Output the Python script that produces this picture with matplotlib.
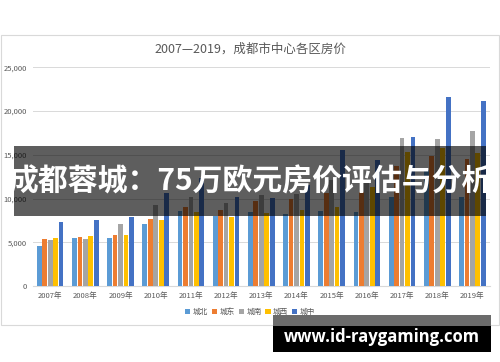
import matplotlib.pyplot as plt
import numpy as np
from matplotlib.patches import Rectangle

plt.rcParams['font.family'] = ['Noto Sans CJK SC', 'DejaVu Sans']

YEARS = ["2007年", "2008年", "2009年", "2010年", "2011年", "2012年", "2013年",
         "2014年", "2015年", "2016年", "2017年", "2018年", "2019年"]
DISTRICTS = ["城北", "城东", "城南", "城西", "城中"]
COLORS = ["#5B9BD5", "#ED7D31", "#A5A5A5", "#FFC000", "#4472C4"]

chengbei = [4580, 5450, 5450, 7090, 8620, 8040, 8470, 8270, 8580, 8430, 10200, 13270, 10200]
chengdong = [5380, 5600, 5830, 7670, 9040, 8660, 9720, 9900, 10600, 10800, 13730, 14910, 14530]
chengnan = [5260, 5380, 7130, 9300, 10200, 9460, 10410, 10500, 12100, 11800, 16900, 16820, 17730]
chengxi = [5450, 5680, 5830, 7510, 8500, 7930, 8390, 8690, 9070, 11360, 15290, 15790, 15250]
chengzhong = [7280, 7550, 7930, 10600, 12400, 10200, 10030, 11600, 15560, 14410, 17010, 21660, 21160]

series = [chengbei, chengdong, chengnan, chengxi, chengzhong]

fig = plt.figure(figsize=(5, 3.62), dpi=100)
ax = fig.add_axes([0.0652, 0.2099, 0.9148, 0.6041])

x = np.arange(len(YEARS))
step, width = 0.155, 0.135
for i, (vals, name, col) in enumerate(zip(series, DISTRICTS, COLORS)):
    ax.bar(x + (i - 2) * step, vals, width, color=col, label=name, zorder=3)

ax.set_xlim(-0.5, len(YEARS) - 0.5)
ax.set_ylim(0, 25000)
ax.set_yticks(np.arange(0, 25001, 5000))
ax.set_yticklabels([f"{v:,}" for v in range(0, 25001, 5000)])
ax.set_xticks(x)
ax.set_xticklabels(YEARS)
ax.tick_params(length=0, labelsize=5.5, colors="#595959", pad=4)
ax.grid(axis="y", color="#D9D9D9", lw=0.7, zorder=0)
for s in ["top", "right", "left"]:
    ax.spines[s].set_visible(False)
ax.spines["bottom"].set_color("#D9D9D9")

fig.text(0.5, 0.865, "2007—2019，成都市中心各区房价", ha="center", va="center",
         fontsize=9, color="#595959")

fig.legend(loc="center", bbox_to_anchor=(0.5, 0.138), ncol=5, frameon=False,
           fontsize=5.5, handlelength=0.7, handleheight=0.7, handletextpad=0.3,
           columnspacing=0.5, labelcolor="#595959")

# chart frame
fig.patches.append(Rectangle((0.002, 0.102), 0.996, 0.801, transform=fig.transFigure,
                             fill=False, edgecolor="#D9D9D9", lw=0.8))

# overlay banner
fig.patches.append(Rectangle((0.028, 0.403), 0.944, 0.194, transform=fig.transFigure,
                             facecolor="black", alpha=0.63, edgecolor="none", zorder=10))
fig.text(0.5, 0.5, "成都蓉城：75万欧元房价评估与分析", ha="center", va="center",
         fontsize=21.5, fontweight="bold", color="white", zorder=11)

# watermark
fig.patches.append(Rectangle((0.546, 0.1), 0.436, 0.03, transform=fig.transFigure,
                             facecolor="#6b6b6b", edgecolor="none", zorder=10))
fig.patches.append(Rectangle((0.546, 0.028), 0.436, 0.072, transform=fig.transFigure,
                             facecolor="black", edgecolor="none", zorder=10))
fig.text(0.764, 0.07, "www.id-raygaming.com", ha="center", va="center",
         fontsize=12, fontweight="bold", color="white", family="Open Sans", zorder=11)

fig.savefig("out.png", dpi=100)
